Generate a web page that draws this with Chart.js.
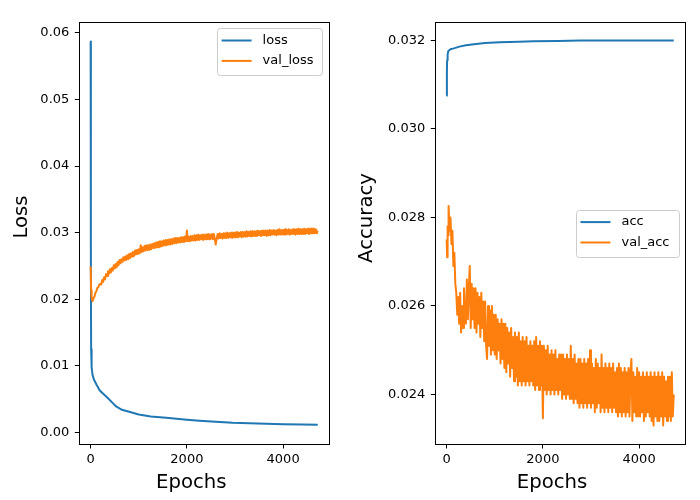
<!DOCTYPE html>
<html>
<head>
<meta charset="utf-8">
<script src="https://cdn.jsdelivr.net/npm/chart.js@4.4.1/dist/chart.umd.min.js"></script>
<style>
  html, body { margin: 0; padding: 0; background: #fff; }
  #wrap { position: relative; width: 700px; height: 500px; }
  canvas { position: absolute; top: 0; }
</style>
</head>
<body>
<div id="wrap">
  <canvas id="loss-chart" width="350" height="500" style="left:0"></canvas>
  <canvas id="acc-chart" width="350" height="500" style="left:350px"></canvas>
</div>
<script>
const FONT = '"DejaVu Sans", sans-serif';
const BLUE = '#1f77b4';
const ORANGE = '#ff7f0e';

// axis ticks
const epochTicks = [0, 2000, 4000];
const epochTickLabels = ['0', '2000', '4000'];
const lossTicks = [0, 0.01, 0.02, 0.03, 0.04, 0.05, 0.06];
const lossTickLabels = ['0.00', '0.01', '0.02', '0.03', '0.04', '0.05', '0.06'];
const accTicks = [0.024, 0.026, 0.028, 0.030, 0.032];
const accTickLabels = ['0.024', '0.026', '0.028', '0.030', '0.032'];

// training curves (smooth, read at uneven epochs)
const lossEpochs = [0, 3, 6, 10, 20, 40, 70, 120, 190, 260, 350, 460, 530, 650, 800,
  1000, 1250, 1570, 2000, 2260, 2600, 2950, 3300, 3650, 4000, 4400, 4720];
const lossValues = [0.0587, 0.040, 0.025, 0.0125, 0.0098, 0.0086, 0.0079, 0.0072, 0.0063, 0.0058, 0.0052, 0.0044, 0.0039, 0.0034, 0.0031,
  0.0027, 0.0024, 0.0022, 0.0019, 0.00175, 0.0016, 0.00145, 0.00137, 0.0013, 0.00124, 0.00118, 0.00114];

const accEpochs = [0, 5, 10, 20, 35, 80, 150, 265, 400, 612, 800, 1100, 1500, 1800, 2300, 2800, 3500, 4720];
const accValues = [0.03075, 0.0313, 0.03155, 0.03168, 0.03176, 0.0318, 0.03182, 0.03186, 0.03189, 0.03192, 0.03194, 0.03196,
  0.03197, 0.03198, 0.03199, 0.032, 0.032, 0.032];

// validation curves (noisy, read at the same epochs)
const valEpochs = [
  0, 10, 20, 30, 40, 60, 80, 100, 120, 140, 160, 180,
  200, 220, 240, 260, 280, 300, 320, 340, 360, 380,
  400, 420, 440, 460, 480, 500, 520, 540, 560, 580,
  600, 620, 640, 660, 680, 700, 720, 740, 760, 780,
  800, 820, 840, 860, 880, 900, 920, 940, 960, 980,
  1000, 1020, 1040, 1060, 1080, 1100, 1120, 1140, 1160, 1180,
  1200, 1220, 1240, 1260, 1280, 1300, 1320, 1340, 1360, 1380,
  1400, 1420, 1440, 1460, 1480, 1500, 1520, 1540, 1560, 1580,
  1600, 1620, 1640, 1660, 1680, 1700, 1720, 1740, 1760, 1780,
  1800, 1820, 1840, 1860, 1880, 1900, 1920, 1940, 1960, 1980,
  2000, 2020, 2040, 2060, 2080, 2100, 2120, 2140, 2160, 2180,
  2200, 2220, 2240, 2260, 2280, 2300, 2320, 2340, 2360, 2380,
  2400, 2420, 2440, 2460, 2480, 2500, 2520, 2540, 2560, 2580,
  2600, 2620, 2640, 2660, 2680, 2700, 2720, 2740, 2760, 2780,
  2800, 2820, 2840, 2860, 2880, 2900, 2920, 2940, 2960, 2980,
  3000, 3020, 3040, 3060, 3080, 3100, 3120, 3140, 3160, 3180,
  3200, 3220, 3240, 3260, 3280, 3300, 3320, 3340, 3360, 3380,
  3400, 3420, 3440, 3460, 3480, 3500, 3520, 3540, 3560, 3580,
  3600, 3620, 3640, 3660, 3680, 3700, 3720, 3740, 3760, 3780,
  3800, 3820, 3840, 3860, 3880, 3900, 3920, 3940, 3960, 3980,
  4000, 4020, 4040, 4060, 4080, 4100, 4120, 4140, 4160, 4180,
  4200, 4220, 4240, 4260, 4280, 4300, 4320, 4340, 4360, 4380,
  4400, 4420, 4440, 4460, 4480, 4500, 4520, 4540, 4560, 4580,
  4600, 4620, 4640, 4660, 4680, 4700, 4720];
const valLossValues = [
  0.0249, 0.0214, 0.0203, 0.0199, 0.0197, 0.0202, 0.0204, 0.0210, 0.0212, 0.0217, 0.0218, 0.0222,
  0.0223, 0.0222, 0.0229, 0.0226, 0.0233, 0.0230, 0.0238, 0.0235, 0.0242, 0.0238,
  0.0245, 0.0240, 0.0247, 0.0243, 0.0251, 0.0246, 0.0253, 0.0248, 0.0256, 0.0251,
  0.0259, 0.0254, 0.0260, 0.0256, 0.0263, 0.0258, 0.0264, 0.0259, 0.0266, 0.0260,
  0.0268, 0.0262, 0.0269, 0.0264, 0.0271, 0.0265, 0.0273, 0.0267, 0.0274, 0.0268,
  0.0275, 0.0269, 0.0281, 0.0271, 0.0278, 0.0272, 0.0280, 0.0273, 0.0281, 0.0274,
  0.0281, 0.0274, 0.0282, 0.0275, 0.0283, 0.0277, 0.0284, 0.0277, 0.0285, 0.0278,
  0.0286, 0.0278, 0.0287, 0.0279, 0.0287, 0.0280, 0.0288, 0.0281, 0.0289, 0.0281,
  0.0289, 0.0282, 0.0290, 0.0282, 0.0290, 0.0283, 0.0291, 0.0284, 0.0292, 0.0284,
  0.0292, 0.0285, 0.0292, 0.0285, 0.0293, 0.0286, 0.0293, 0.0286, 0.0294, 0.0287,
  0.0303, 0.0287, 0.0294, 0.0287, 0.0295, 0.0288, 0.0295, 0.0288, 0.0296, 0.0288,
  0.0296, 0.0289, 0.0297, 0.0289, 0.0296, 0.0290, 0.0297, 0.0289, 0.0297, 0.0290,
  0.0297, 0.0290, 0.0298, 0.0290, 0.0297, 0.0291, 0.0298, 0.0290, 0.0298, 0.0291,
  0.0282, 0.0291, 0.0298, 0.0291, 0.0299, 0.0292, 0.0298, 0.0291, 0.0299, 0.0292,
  0.0299, 0.0292, 0.0300, 0.0292, 0.0299, 0.0293, 0.0300, 0.0292, 0.0300, 0.0293,
  0.0300, 0.0293, 0.0301, 0.0293, 0.0300, 0.0294, 0.0301, 0.0293, 0.0301, 0.0294,
  0.0301, 0.0294, 0.0302, 0.0294, 0.0301, 0.0295, 0.0302, 0.0294, 0.0302, 0.0295,
  0.0302, 0.0295, 0.0302, 0.0295, 0.0303, 0.0296, 0.0302, 0.0295, 0.0303, 0.0296,
  0.0303, 0.0296, 0.0303, 0.0295, 0.0303, 0.0296, 0.0304, 0.0296, 0.0303, 0.0297,
  0.0304, 0.0297, 0.0303, 0.0296, 0.0304, 0.0297, 0.0305, 0.0297, 0.0304, 0.0297,
  0.0304, 0.0297, 0.0305, 0.0297, 0.0304, 0.0298, 0.0305, 0.0297, 0.0304, 0.0298,
  0.0305, 0.0298, 0.0305, 0.0297, 0.0305, 0.0298, 0.0306, 0.0298, 0.0305, 0.0298,
  0.0305, 0.0298, 0.0306, 0.0298, 0.0305, 0.0299, 0.0306, 0.0298, 0.0306, 0.0299,
  0.0306, 0.0299, 0.0306, 0.0299, 0.0305, 0.0299, 0.0303];
const valAccValues = [
  0.0275, 0.0271, 0.0278, 0.0276, 0.02826, 0.0277, 0.0280, 0.0274, 0.0277, 0.0269, 0.0272, 0.0265,
  0.0263, 0.0258, 0.0262, 0.0256, 0.0263, 0.0254, 0.0260, 0.0255, 0.0264, 0.0257,
  0.0256, 0.0266, 0.0257, 0.0264, 0.0269, 0.0255, 0.0265, 0.0257, 0.0264, 0.0255,
  0.0264, 0.0254, 0.0263, 0.0256, 0.0262, 0.0253, 0.0263, 0.0255, 0.0261, 0.0252,
  0.0261, 0.0251, 0.0248, 0.0260, 0.0251, 0.0259, 0.0249, 0.0260, 0.0250, 0.0258,
  0.0249, 0.0258, 0.0248, 0.0257, 0.0250, 0.0256, 0.0247, 0.0257, 0.0248, 0.0256,
  0.0246, 0.0256, 0.0245, 0.0255, 0.0247, 0.0254, 0.0244, 0.0255, 0.0246, 0.0253,
  0.0243, 0.0254, 0.0244, 0.0253, 0.0242, 0.0254, 0.0243, 0.0252, 0.0242, 0.0253,
  0.0243, 0.0252, 0.0242, 0.0253, 0.0243, 0.0251, 0.0242, 0.0252, 0.0243, 0.0251,
  0.0242, 0.0252, 0.0241, 0.0253, 0.0242, 0.0251, 0.0241, 0.0252, 0.0242, 0.0251,
  0.02346, 0.0251, 0.0241, 0.0250, 0.0240, 0.0251, 0.0241, 0.0249, 0.0240, 0.0250,
  0.0241, 0.0249, 0.0240, 0.0250, 0.0241, 0.0248, 0.0240, 0.0249, 0.0241, 0.0249,
  0.0239, 0.0249, 0.0240, 0.0248, 0.0239, 0.0249, 0.0240, 0.0248, 0.0239, 0.0251,
  0.0239, 0.0248, 0.0238, 0.0249, 0.0239, 0.0247, 0.0238, 0.0248, 0.0237, 0.0248,
  0.0238, 0.0247, 0.0237, 0.0248, 0.0238, 0.0247, 0.0237, 0.0248, 0.0238, 0.0250,
  0.0237, 0.0247, 0.0238, 0.0246, 0.0236, 0.0248, 0.0237, 0.0247, 0.0238, 0.0246,
  0.0236, 0.0249, 0.0237, 0.0246, 0.0236, 0.0247, 0.0237, 0.0246, 0.0236, 0.0247,
  0.0237, 0.0246, 0.0236, 0.0247, 0.0237, 0.0245, 0.0236, 0.0246, 0.0235, 0.0247,
  0.0236, 0.0246, 0.0235, 0.0245, 0.0236, 0.0246, 0.0235, 0.0245, 0.0236, 0.0246,
  0.0235, 0.0245, 0.0248, 0.0234, 0.0245, 0.0236, 0.0244, 0.0235, 0.0246, 0.0235,
  0.0245, 0.0235, 0.0244, 0.0236, 0.0245, 0.0234, 0.0244, 0.0235, 0.0245, 0.0236,
  0.0244, 0.0235, 0.0245, 0.0234, 0.0244, 0.0233, 0.0245, 0.0235, 0.0244, 0.0234,
  0.0245, 0.0234, 0.0244, 0.0235, 0.0245, 0.0233, 0.0244, 0.0235, 0.0243, 0.0234,
  0.0244, 0.0235, 0.0244, 0.0234, 0.0245, 0.0235, 0.0240];

const toPoints = (xs, ys) => xs.map((x, i) => ({ x, y: ys[i] }));

// black box round the plot area, drawn over the lines like matplotlib spines
const frame = {
  id: 'frame',
  afterDatasetsDraw(chart) {
    const { ctx, chartArea: a } = chart;
    ctx.save();
    ctx.strokeStyle = '#000';
    ctx.lineWidth = 1;
    ctx.strokeRect(Math.round(a.left) + 0.5, Math.round(a.top) + 0.5,
      Math.round(a.right - a.left), Math.round(a.bottom - a.top));
    ctx.restore();
  }
};

// matplotlib style legend box with line handles
const legendBox = {
  id: 'legendBox',
  afterDraw(chart, args, opts) {
    const { ctx, chartArea: a } = chart;
    const sets = chart.data.datasets;
    ctx.save();
    ctx.font = '13px ' + FONT;
    const textW = Math.max(...sets.map(d => ctx.measureText(d.label).width));
    const w = 4.5 + 30 + 11 + textW + 9;
    const h = 46.5;
    const x = a.right - 6.8 - w;
    const y = opts.loc === 'center right' ? (a.top + a.bottom) / 2 - h / 2 : a.top + 6;
    ctx.beginPath();
    ctx.roundRect(Math.round(x) + 0.5, Math.round(y) + 0.5, Math.round(w), Math.round(h), 3);
    ctx.fillStyle = 'rgba(255,255,255,0.8)';
    ctx.fill();
    ctx.strokeStyle = '#cccccc';
    ctx.lineWidth = 1;
    ctx.stroke();
    sets.forEach((d, i) => {
      const cy = y + 12.2 + i * 20.4;
      ctx.beginPath();
      ctx.moveTo(x + 4.5, cy);
      ctx.lineTo(x + 34.5, cy);
      ctx.strokeStyle = d.borderColor;
      ctx.lineWidth = 2;
      ctx.stroke();
      ctx.fillStyle = '#000';
      ctx.textBaseline = 'middle';
      ctx.textAlign = 'left';
      ctx.fillText(d.label, x + 45.5, cy);
    });
    ctx.restore();
  }
};

// axis labels placed where the reference has them
const axisTitles = {
  id: 'axisTitles',
  afterDraw(chart, args, opts) {
    const { ctx } = chart;
    ctx.save();
    ctx.fillStyle = '#000';
    ctx.font = '19.7px ' + FONT;
    ctx.textAlign = 'center';
    ctx.textBaseline = 'alphabetic';
    ctx.fillText(opts.xText, opts.xAt[0], opts.xAt[1]);
    ctx.translate(opts.yAt[0], opts.yAt[1]);
    ctx.rotate(-Math.PI / 2);
    ctx.fillText(opts.yText, 0, 0);
    ctx.restore();
  }
};

const line = (label, color, points, order) => ({
  label,
  data: points,
  borderColor: color,
  backgroundColor: color,
  borderWidth: 2,
  borderJoinStyle: 'round',
  pointRadius: 0,
  tension: 0,
  fill: false,
  order
});

const tickFont = { family: FONT, size: 13 };

const makeChart = (canvasId, cfg) => new Chart(document.getElementById(canvasId), {
  type: 'line',
  data: { datasets: cfg.datasets },
  plugins: [frame, legendBox, axisTitles],
  options: {
    responsive: false,
    animation: false,
    devicePixelRatio: 1,
    layout: { padding: { left: 0, right: cfg.padRight, top: 22.3, bottom: 0 } },
    plugins: {
      legend: { display: false },
      tooltip: { enabled: false },
      legendBox: { loc: cfg.legendLoc },
      axisTitles: cfg.titles
    },
    scales: {
      x: {
        type: 'linear',
        min: -236,
        max: 4960,
        afterBuildTicks: s => { s.ticks = epochTicks.map(value => ({ value })); },
        afterFit: s => { s.height = 56; },
        ticks: {
          autoSkip: false,
          maxRotation: 0,
          padding: 3,
          color: '#000',
          font: tickFont,
          callback: (v, i) => epochTickLabels[i]
        },
        grid: { display: true, drawOnChartArea: false, drawTicks: true, tickLength: 4.5, color: '#000', lineWidth: 1 },
        border: { display: false }
      },
      y: {
        type: 'linear',
        min: cfg.yMin,
        max: cfg.yMax,
        afterBuildTicks: s => { s.ticks = cfg.yTicks.map(value => ({ value })); },
        afterFit: s => { s.width = cfg.yWidth; },
        ticks: {
          autoSkip: false,
          padding: 5.5,
          color: '#000',
          font: tickFont,
          callback: (v, i) => cfg.yTickLabels[i]
        },
        grid: { display: true, drawOnChartArea: false, drawTicks: true, tickLength: 4.5, color: '#000', lineWidth: 1 },
        border: { display: false }
      }
    }
  }
});

makeChart('loss-chart', {
  datasets: [
    line('loss', BLUE, toPoints(lossEpochs, lossValues), 1),
    line('val_loss', ORANGE, toPoints(valEpochs, valLossValues), 0)
  ],
  yMin: -0.00174,
  yMax: 0.06158,
  yTicks: lossTicks,
  yTickLabels: lossTickLabels,
  yWidth: 79.3,
  padRight: 20.7,
  legendLoc: 'upper right',
  titles: { xText: 'Epochs', xAt: [191.3, 487.5], yText: 'Loss', yAt: [26.7, 217] }
});

makeChart('acc-chart', {
  datasets: [
    line('acc', BLUE, toPoints(accEpochs, accValues), 1),
    line('val_acc', ORANGE, toPoints(valEpochs, valAccValues), 0)
  ],
  yMin: 0.02288,
  yMax: 0.03241,
  yTicks: accTicks,
  yTickLabels: accTickLabels,
  yWidth: 85.3,
  padRight: 14.7,
  legendLoc: 'center right',
  titles: { xText: 'Epochs', xAt: [202, 487.5], yText: 'Accuracy', yAt: [22.2, 218] }
});
</script>
</body>
</html>
